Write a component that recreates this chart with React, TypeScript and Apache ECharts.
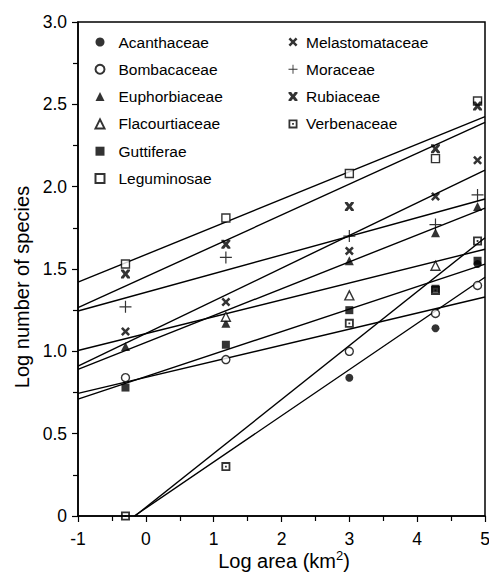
import React, { useEffect, useRef } from "react";
import * as echarts from "echarts";

// Log area (km^2) of the sampled regions
const AREAS = [-0.3, 1.18, 3.0, 4.27, 4.89];

const FAMILIES = [
  "Acanthaceae",
  "Bombacaceae",
  "Euphorbiaceae",
  "Flacourtiaceae",
  "Guttiferae",
  "Leguminosae",
  "Melastomataceae",
  "Moraceae",
  "Rubiaceae",
  "Verbenaceae",
];

// Log number of species at each area (null = not shown)
const ACANTHACEAE = [null, null, 0.84, 1.14, 1.53];
const BOMBACACEAE = [0.84, 0.95, 1.0, 1.23, 1.4];
const EUPHORBIACEAE = [1.03, 1.17, 1.55, 1.72, 1.88];
const FLACOURTIACEAE = [null, 1.21, 1.34, 1.52, null];
const GUTTIFERAE = [0.78, 1.04, 1.25, 1.38, 1.55];
const LEGUMINOSAE = [1.53, 1.81, 2.08, 2.17, 2.52];
const MELASTOMATACEAE = [1.12, 1.3, 1.61, 1.94, 2.16];
const MORACEAE = [1.27, 1.57, 1.7, 1.77, 1.95];
const RUBIACEAE = [1.47, 1.65, 1.88, 2.23, 2.49];
const VERBENACEAE = [0, 0.3, 1.17, 1.37, 1.67];

// Fitted regression lines: [x start, y start, x end, y end]
const FIT_ACANTHACEAE = [-0.17, 0, 5, 1.45];
const FIT_BOMBACACEAE = [-1, 0.745, 5, 1.33];
const FIT_EUPHORBIACEAE = [-1, 0.89, 5, 1.87];
const FIT_FLACOURTIACEAE = [-1, 1.005, 5, 1.62];
const FIT_GUTTIFERAE = [-1, 0.71, 5, 1.53];
const FIT_LEGUMINOSAE = [-1, 1.42, 5, 2.425];
const FIT_MELASTOMATACEAE = [-1, 0.91, 5, 2.1];
const FIT_MORACEAE = [-1, 1.245, 5, 1.925];
const FIT_RUBIACEAE = [-1, 1.265, 5, 2.39];
const FIT_VERBENACEAE = [-0.16, 0, 5, 1.69];

const VALUES = [
  ACANTHACEAE, BOMBACACEAE, EUPHORBIACEAE, FLACOURTIACEAE, GUTTIFERAE,
  LEGUMINOSAE, MELASTOMATACEAE, MORACEAE, RUBIACEAE, VERBENACEAE,
];
const FITS = [
  FIT_ACANTHACEAE, FIT_BOMBACACEAE, FIT_EUPHORBIACEAE, FIT_FLACOURTIACEAE, FIT_GUTTIFERAE,
  FIT_LEGUMINOSAE, FIT_MELASTOMATACEAE, FIT_MORACEAE, FIT_RUBIACEAE, FIT_VERBENACEAE,
];

const X_PATH = "path://M2,0 L5,3 L8,0 L10,2 L7,5 L10,8 L8,10 L5,7 L2,10 L0,8 L3,5 L0,2 Z";
const BOWTIE_PATH = "path://M0,0 L3,0 L5,2.6 L7,0 L10,0 L10,1.6 L7.2,5 L10,8.4 L10,10 L7,10 L5,7.4 L3,10 L0,10 L0,8.4 L2.8,5 L0,1.6 Z";
const PLUS_PATH = "path://M4.5,0 L5.5,0 L5.5,4.5 L10,4.5 L10,5.5 L5.5,5.5 L5.5,10 L4.5,10 L4.5,5.5 L0,5.5 L0,4.5 L4.5,4.5 Z";
const DOTSQ_PATH = "path://M0,0 L10,0 L10,10 L0,10 Z M2,2 L2,8 L8,8 L8,2 Z M4,4 L6,4 L6,6 L4,6 Z";

const BLACK = "#000";
const OPEN = { color: "#fff", borderColor: BLACK, borderWidth: 1.4 };
const FILLED = { color: BLACK, borderWidth: 0 };

const MARKERS: any[] = [
  { symbol: "circle", size: 8, style: FILLED },
  { symbol: "circle", size: 8, style: OPEN },
  { symbol: "triangle", size: 9, style: FILLED },
  { symbol: "triangle", size: 9, style: OPEN },
  { symbol: "rect", size: 8, style: FILLED },
  { symbol: "rect", size: 8, style: OPEN },
  { symbol: X_PATH, size: 9, style: FILLED },
  { symbol: PLUS_PATH, size: 12, style: FILLED },
  { symbol: BOWTIE_PATH, size: 9, style: FILLED },
  { symbol: DOTSQ_PATH, size: 9, style: FILLED },
];

const FONT = "'Liberation Sans', Arial, Helvetica, sans-serif";

export default function App() {
  const ref = useRef<HTMLDivElement>(null);

  useEffect(() => {
    if (!ref.current) return;
    const chart = echarts.init(ref.current, null, { renderer: "svg" });

    const lineSeries = FAMILIES.map((f, i) => ({
      name: f + " fit",
      type: "line",
      data: [
        [FITS[i][0], FITS[i][1]],
        [FITS[i][2], FITS[i][3]],
      ],
      symbol: "none",
      silent: true,
      z: 1,
      lineStyle: { color: BLACK, width: 1.4 },
    }));

    const scatterSeries = FAMILIES.map((f, i) => ({
      name: f,
      type: "scatter",
      data: AREAS.map((x, j) => (VALUES[i][j] == null ? null : [x, VALUES[i][j]])).filter(
        (d) => d !== null
      ),
      symbol: MARKERS[i].symbol,
      symbolSize: MARKERS[i].size,
      itemStyle: MARKERS[i].style,
      z: 3,
    }));

    const legendCommon = {
      orient: "vertical",
      padding: 0,
      itemWidth: 9,
      itemHeight: 9,
      itemGap: 11.3,
      selectedMode: false,
    };

    chart.setOption({
      animation: false,
      backgroundColor: "#fff",
      textStyle: { fontFamily: FONT, color: BLACK },
      grid: {
        left: 78,
        right: 4,
        top: 22,
        bottom: 63,
        containLabel: false,
        outerBoundsMode: "none",
        show: true,
        borderColor: BLACK,
        borderWidth: 1.5,
      },
      legend: [
        {
          ...legendCommon,
          left: 94.5,
          top: 34,
          data: FAMILIES.slice(0, 6),
          textStyle: { fontFamily: FONT, fontSize: 15.5, color: BLACK, lineHeight: 16, padding: [0, 0, 0, 9] },
        },
        {
          ...legendCommon,
          left: 288.5,
          top: 34,
          data: FAMILIES.slice(6),
          textStyle: { fontFamily: FONT, fontSize: 15.5, color: BLACK, lineHeight: 16, padding: [0, 0, 0, 3.5] },
        },
      ],
      xAxis: {
        type: "value",
        min: -1,
        max: 5,
        interval: 1,
        splitLine: { show: false },
        axisLine: { onZero: false, lineStyle: { color: BLACK, width: 1.5 } },
        axisTick: { show: true, length: 6, inside: false, lineStyle: { color: BLACK, width: 1.2 } },
        minorTick: { show: true, splitNumber: 2, length: 5, lineStyle: { color: BLACK, width: 1.2 } },
        axisLabel: { fontFamily: FONT, fontSize: 17.5, color: BLACK, margin: 14 },
      },
      yAxis: {
        type: "value",
        min: 0,
        max: 3,
        interval: 0.5,
        splitLine: { show: false },
        axisLine: { show: true, onZero: false, lineStyle: { color: BLACK, width: 1.5 } },
        axisTick: { show: true, length: 6, inside: false, lineStyle: { color: BLACK, width: 1.2 } },
        minorTick: { show: true, splitNumber: 2, length: 5, lineStyle: { color: BLACK, width: 1.2 } },
        axisLabel: {
          fontFamily: FONT,
          fontSize: 17.5,
          color: BLACK,
          margin: 11,
          formatter: (v: number) => (v === 0 ? "0" : v.toFixed(1)),
        },
      },
      graphic: [
        {
          type: "text",
          x: 22,
          y: 287,
          rotation: Math.PI / 2,
          style: {
            text: "Log number of species",
            font: `20px ${FONT}`,
            fill: BLACK,
            textAlign: "center",
            textVerticalAlign: "middle",
          },
        },
        {
          type: "text",
          x: 284,
          y: 561,
          style: {
            text: "{b|Log area (km}{s|2}{b|)}",
            fill: BLACK,
            textAlign: "center",
            textVerticalAlign: "middle",
            rich: {
              b: { fontFamily: FONT, fontSize: 20, lineHeight: 24, fill: BLACK },
              s: { fontFamily: FONT, fontSize: 13, lineHeight: 13, verticalAlign: "top", fill: BLACK },
            },
          },
        },
      ],
      series: [...lineSeries, ...scatterSeries],
    });

    return () => chart.dispose();
  }, []);

  return (
    <div
      ref={ref}
      style={{ position: "absolute", left: 0, top: 0, width: 489, height: 579 }}
    />
  );
}
